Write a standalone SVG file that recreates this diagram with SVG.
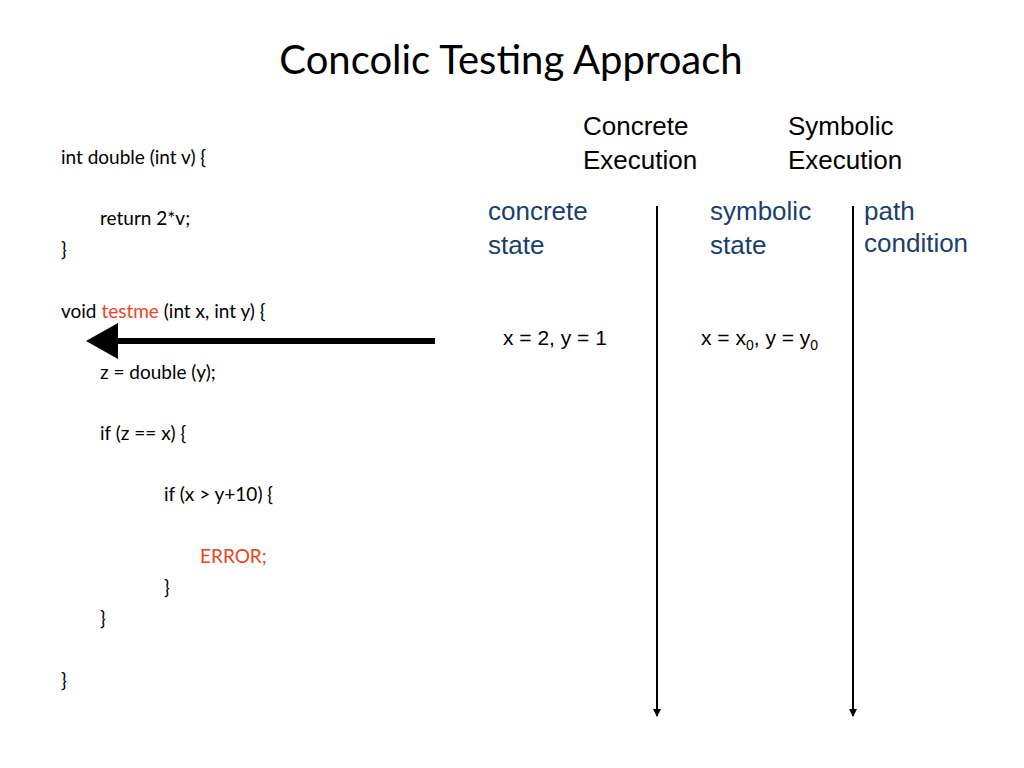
<svg xmlns="http://www.w3.org/2000/svg" width="1024" height="768" viewBox="0 0 1024 768">
<style>
.code{font-family:Lato,"Open Sans",sans-serif;font-size:19px;fill:#000}
.red{fill:#e8451d}
.hd{font-family:"Liberation Sans",Arial,sans-serif;font-size:26px;fill:#000}
.bl{font-family:"Liberation Sans",Arial,sans-serif;font-size:26px;fill:#1b3f6b}
.val{font-family:"Liberation Sans",Arial,sans-serif;font-size:21px;fill:#000}
</style>
<defs>
<marker id="ah" markerWidth="8" markerHeight="8" refX="7" refY="4" orient="auto" markerUnits="userSpaceOnUse"><path d="M0,0 L8,4 L0,8 Z" fill="#000"/></marker>
</defs>
<rect width="1024" height="768" fill="#fff"/>
<text x="511" y="74" text-anchor="middle" font-family="Lato,'Open Sans',sans-serif" font-size="40" fill="#000">Concolic Testing Approach</text>
<g id="code">
<text class="code" x="61" y="164">int double (int v) {</text>
<text class="code" x="100" y="225">return 2*v;</text>
<text class="code" x="61" y="256">}</text>
<text class="code" x="61" y="318">void <tspan class="red">testme</tspan> (int x, int y) {</text>
<text class="code" x="100" y="379">z = double (y);</text>
<text class="code" x="100" y="440">if (z == x) {</text>
<text class="code" x="164" y="501">if (x &gt; y+10) {</text>
<text class="code red" x="200" y="563">ERROR;</text>
<text class="code" x="164" y="594">}</text>
<text class="code" x="100" y="625">}</text>
<text class="code" x="61" y="687">}</text>
</g>
<g id="headers">
<text class="hd" x="583" y="135">Concrete</text>
<text class="hd" x="583" y="169">Execution</text>
<text class="hd" x="788" y="135">Symbolic</text>
<text class="hd" x="788" y="169">Execution</text>
<text class="bl" x="488" y="220">concrete</text>
<text class="bl" x="488" y="254">state</text>
<text class="bl" x="710" y="220">symbolic</text>
<text class="bl" x="710" y="254">state</text>
<text class="bl" x="864" y="220">path</text>
<text class="bl" x="864" y="252" font-size="23">condition</text>
<text class="val" x="503" y="345">x = 2, y = 1</text>
<text class="val" x="701" y="345">x = x<tspan font-size="14" dy="5">0</tspan><tspan dy="-5">, y = y</tspan><tspan font-size="14" dy="5">0</tspan></text>
</g>
<g id="connectors">
<line x1="657" y1="206" x2="657" y2="716" stroke="#000" stroke-width="2" marker-end="url(#ah)"/>
<line x1="853" y1="206" x2="853" y2="716" stroke="#000" stroke-width="2" marker-end="url(#ah)"/>
<line x1="435" y1="341" x2="112" y2="341" stroke="#000" stroke-width="6"/>
<path d="M86,341 L118,323 L118,359 Z" fill="#000"/>
</g>
</svg>
